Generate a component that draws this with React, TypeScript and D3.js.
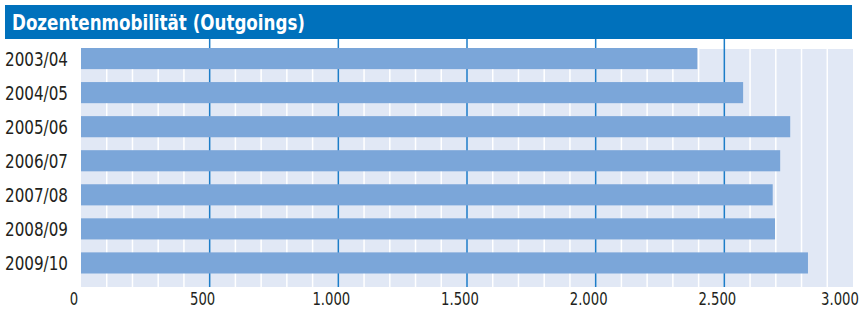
import React from "react";
import * as d3 from "d3";

const years = ["2003/04", "2004/05", "2005/06", "2006/07", "2007/08", "2008/09", "2009/10"];
const outgoings = [2395, 2573, 2756, 2717, 2688, 2697, 2825];
const tickValues = [0, 500, 1000, 1500, 2000, 2500, 3000];
const minorValues = d3.range(100, 3000, 100).filter((v) => v % 500 !== 0);

const title = "Dozentenmobilität (Outgoings)";

const W = 864;
const H = 309;
const font = "'Liberation Sans Narrow', 'Arial Narrow', 'DejaVu Sans Condensed', sans-serif";

export default function App() {
  const x = d3.scaleLinear().domain([0, 3000]).range([81, 853]);
  const y = d3.scaleBand<string>().domain(years).range([48, 273.5]).paddingInner(0.38).paddingOuter(0);
  const bgTop = 49;
  const bgBottom = 287;
  const fmt = (v: number) => d3.format(",")(v).replace(/,/g, ".");

  return (
    <svg width={W} height={H} style={{ position: "absolute", left: 0, top: 0 }}>
      <rect x={0} y={0} width={W} height={H} fill="#fff" />
      {/* title band */}
      <rect x={5} y={5} width={847} height={34} fill="#0071BC" />
      <text x={12} y={30} fill="#fff" fontFamily={font} fontWeight="bold" fontSize={21}
        textLength={293} lengthAdjust="spacingAndGlyphs">
        {title}
      </text>

      {/* plot background */}
      <rect x={x(0)} y={bgTop} width={x(3000) - x(0)} height={bgBottom - bgTop} fill="#E1E8F5" />
      {minorValues.map((v) => (
        <line key={v} x1={x(v)} x2={x(v)} y1={bgTop} y2={bgBottom} stroke="#fff" strokeWidth={1.5} />
      ))}
      {tickValues.slice(1, -1).map((v) => (
        <line key={v} x1={x(v)} x2={x(v)} y1={39} y2={bgBottom} stroke="#1C7DC8" strokeWidth={1.5} />
      ))}

      {/* bars */}
      {outgoings.map((v, i) => (
        <rect key={years[i]} x={x(0)} y={y(years[i])} width={x(v) - x(0)} height={y.bandwidth()} fill="#7BA6D9" />
      ))}

      {/* category labels */}
      {years.map((c) => (
        <text key={c} x={5} y={(y(c) as number) + y.bandwidth() / 2 + 7} fill="#231F20" fontFamily={font} fontSize={19}
          textLength={63} lengthAdjust="spacingAndGlyphs">
          {c}
        </text>
      ))}

      {/* x axis labels (squeezed to look condensed) */}
      {tickValues.map((v) => {
        const cx = Math.min(x(v) - 7, 840);
        return (
          <g key={v} transform={`translate(${cx},305) scale(0.84,1)`}>
            <text textAnchor="middle" fill="#231F20" fontFamily={font} fontSize={17.5}>
              {fmt(v)}
            </text>
          </g>
        );
      })}
    </svg>
  );
}
